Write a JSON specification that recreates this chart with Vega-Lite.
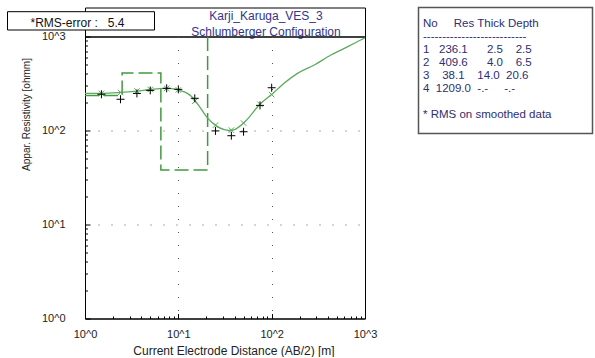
{
  "$schema": "https://vega.github.io/schema/vega-lite/v6.json",
  "background": "white",
  "padding": {"left": 6, "top": 6.5, "right": 0, "bottom": 0},
  "config": {"font": "Liberation Sans", "view": {"stroke": null}},
  "datasets": {
    "titles": [
      {"line": 1, "text": "Karji_Karuga_VES_3"},
      {"line": 2, "text": "Schlumberger Configuration"}
    ],
    "rms": [{"label": "*RMS-error :\u00a0\u00a0\u00a05.4"}],
    "model": [
      {"i": 0, "ab2": 1, "rho": 236.1},
      {"i": 1, "ab2": 2.5, "rho": 236.1},
      {"i": 2, "ab2": 2.5, "rho": 409.6},
      {"i": 3, "ab2": 6.5, "rho": 409.6},
      {"i": 4, "ab2": 6.5, "rho": 38.1},
      {"i": 5, "ab2": 20.6, "rho": 38.1},
      {"i": 6, "ab2": 20.6, "rho": 1209}
    ],
    "curve": [
      {"ab2": 1, "rho": 248}, {"ab2": 1.5, "rho": 248}, {"ab2": 2.4, "rho": 254},
      {"ab2": 3.6, "rho": 263}, {"ab2": 5, "rho": 273}, {"ab2": 7, "rho": 281},
      {"ab2": 8, "rho": 281}, {"ab2": 9, "rho": 277}, {"ab2": 10.5, "rho": 266},
      {"ab2": 12.5, "rho": 248}, {"ab2": 14, "rho": 228}, {"ab2": 16.5, "rho": 185},
      {"ab2": 20.5, "rho": 136}, {"ab2": 25.5, "rho": 112}, {"ab2": 31, "rho": 102},
      {"ab2": 35, "rho": 100}, {"ab2": 40, "rho": 102}, {"ab2": 45, "rho": 110},
      {"ab2": 50.8, "rho": 122}, {"ab2": 55, "rho": 132}, {"ab2": 73.5, "rho": 187},
      {"ab2": 98, "rho": 238}, {"ab2": 136, "rho": 318}, {"ab2": 189, "rho": 405},
      {"ab2": 286, "rho": 498}, {"ab2": 431, "rho": 635}, {"ab2": 600, "rho": 749},
      {"ab2": 900, "rho": 918}, {"ab2": 1000, "rho": 970}
    ],
    "smooth": [
      {"ab2": 1.5, "rho": 248}, {"ab2": 2.4, "rho": 254}, {"ab2": 3.6, "rho": 263},
      {"ab2": 5, "rho": 273}, {"ab2": 7.5, "rho": 281}, {"ab2": 10, "rho": 270},
      {"ab2": 15, "rho": 205}, {"ab2": 25, "rho": 114}, {"ab2": 37, "rho": 101},
      {"ab2": 50, "rho": 120}, {"ab2": 75, "rho": 190}, {"ab2": 100, "rho": 241}
    ],
    "field": [
      {"ab2": 1.5, "rho": 243}, {"ab2": 2.4, "rho": 215}, {"ab2": 3.6, "rho": 248},
      {"ab2": 5, "rho": 267}, {"ab2": 7.5, "rho": 281}, {"ab2": 10, "rho": 274},
      {"ab2": 15, "rho": 220}, {"ab2": 25, "rho": 99}, {"ab2": 37, "rho": 88},
      {"ab2": 50, "rho": 97}, {"ab2": 75, "rho": 185}, {"ab2": 100, "rho": 285}
    ],
    "table": [
      {"line": 0, "text": "No\u00a0\u00a0\u00a0\u00a0\u00a0Res\u00a0Thick\u00a0Depth"},
      {"line": 1, "text": "---------------------------"},
      {"line": 2, "text": "\u00a01\u00a0\u00a0\u00a0236.1\u00a0\u00a0\u00a0\u00a0\u00a0\u00a02.5\u00a0\u00a0\u00a0\u00a02.5"},
      {"line": 3, "text": "\u00a02\u00a0\u00a0\u00a0409.6\u00a0\u00a0\u00a0\u00a0\u00a0\u00a04.0\u00a0\u00a0\u00a0\u00a06.5"},
      {"line": 4, "text": "\u00a03\u00a0\u00a0\u00a0\u00a038.1\u00a0\u00a0\u00a0\u00a014.0\u00a0\u00a020.6"},
      {"line": 5, "text": "\u00a04\u00a0\u00a01209.0\u00a0\u00a0-.-\u00a0\u00a0\u00a0\u00a0\u00a0-.-"},
      {"line": 7, "text": "* RMS on smoothed data"}
    ]
  },
  "spacing": 39.5,
  "hconcat": [
    {
      "spacing": 0,
      "bounds": "flush",
      "vconcat": [
        {
          "width": 280,
          "height": 29,
          "view": {"stroke": "black", "strokeWidth": 1},
          "layer": [
            {
              "data": {"name": "titles"},
              "mark": {"type": "text", "fontSize": 12, "color": "#34348a", "dx": 41},
              "encoding": {
                "y": {"field": "line", "type": "ordinal", "axis": null, "scale": {"range": [8.5, 24], "padding": 0}},
                "text": {"field": "text"}
              }
            },
            {
              "data": {"name": "rms"},
              "mark": {"type": "rect", "fill": "white", "stroke": "black", "strokeWidth": 1},
              "encoding": {"x": {"value": -77.5}, "x2": {"value": 69.5}, "y": {"value": 4.2}, "y2": {"value": 22.5}}
            },
            {
              "data": {"name": "rms"},
              "mark": {"type": "text", "fontSize": 12, "color": "#111111"},
              "encoding": {"x": {"value": -7.5}, "y": {"value": 15.2}, "text": {"field": "label"}}
            }
          ]
        },
        {
          "width": 280,
          "height": 282,
          "view": {"stroke": "black", "strokeWidth": 1},
          "encoding": {
            "x": {
              "field": "ab2", "type": "quantitative",
              "scale": {"type": "log", "domain": [1, 1000]},
              "axis": {
                "title": "Current Electrode Distance (AB/2) [m]",
                "values": [1,2,3,4,5,6,7,8,9,10,20,30,40,50,60,70,80,90,100,200,300,400,500,600,700,800,900,1000],
                "labelExpr": "datum.value == 1 ? '10^0' : datum.value == 10 ? '10^1' : datum.value == 100 ? '10^2' : datum.value == 1000 ? '10^3' : ''",
                "labelFlush": false, "labelOverlap": false,
                "labelFontSize": 11, "labelColor": "#222222", "labelPadding": 14.5,
                "tickSize": {"condition": {"test": "datum.value == 1 || datum.value == 10 || datum.value == 100 || datum.value == 1000", "value": -5}, "value": -2.5},
                "tickColor": "black", "domainColor": "black",
                "grid": true,
                "gridOpacity": {"condition": {"test": "datum.value == 10 || datum.value == 100", "value": 1}, "value": 0},
                "gridDash": [1, 12], "gridColor": "#555555",
                "titleFontSize": 12, "titleFontWeight": "normal", "titleColor": "#222222",
                "titleX": 148.5, "titlePadding": 3.5
              }
            },
            "y": {
              "field": "rho", "type": "quantitative",
              "scale": {"type": "log", "domain": [1, 1000]},
              "axis": {
                "title": "Appar. Resistivity [ohmm]",
                "values": [1,2,3,4,5,6,7,8,9,10,20,30,40,50,60,70,80,90,100,200,300,400,500,600,700,800,900,1000],
                "labelExpr": "datum.value == 1 ? '10^0' : datum.value == 10 ? '10^1' : datum.value == 100 ? '10^2' : datum.value == 1000 ? '10^3' : ''",
                "labelFlush": false, "labelOverlap": false,
                "labelFontSize": 11, "labelColor": "#222222", "labelPadding": 25,
                "tickSize": {"condition": {"test": "datum.value == 1 || datum.value == 10 || datum.value == 100 || datum.value == 1000", "value": -5}, "value": -2.5},
                "tickColor": "black", "domainColor": "black",
                "grid": true,
                "gridOpacity": {"condition": {"test": "datum.value == 10 || datum.value == 100", "value": 1}, "value": 0},
                "gridDash": [1, 12], "gridColor": "#555555",
                "titleFontSize": 10, "titleFontWeight": "normal", "titleColor": "#222222",
                "titleY": 77.5, "titlePadding": 10
              }
            }
          },
          "layer": [
            {
              "data": {"name": "model"},
              "mark": {"type": "line", "color": "#3f9a3f", "strokeWidth": 1.5, "strokeDash": [14, 5], "clip": true},
              "encoding": {"order": {"field": "i", "type": "quantitative"}}
            },
            {
              "data": {"name": "curve"},
              "mark": {"type": "line", "color": "#5cab5c", "strokeWidth": 1.3, "interpolate": "monotone", "clip": true}
            },
            {
              "data": {"name": "smooth"},
              "mark": {"type": "point", "shape": "M-1,-1L1,1M-1,1L1,-1", "filled": false, "size": 30, "color": "#5cab5c", "strokeWidth": 1, "opacity": 1}
            },
            {
              "data": {"name": "field"},
              "mark": {"type": "point", "shape": "M-1,0L1,0M0,-1L0,1", "filled": false, "size": 64, "color": "black", "strokeWidth": 1, "opacity": 1}
            }
          ]
        }
      ]
    },
    {
      "width": 174,
      "height": 126,
      "view": {"stroke": "#555555", "strokeWidth": 1.5},
      "data": {"name": "table"},
      "mark": {"type": "text", "align": "left", "fontSize": 11.5, "color": "#2e2e70"},
      "encoding": {
        "x": {"value": 4.5},
        "y": {"field": "line", "type": "quantitative", "scale": {"domain": [0, 7], "range": [16, 107]}, "axis": null},
        "text": {"field": "text"}
      }
    }
  ]
}
